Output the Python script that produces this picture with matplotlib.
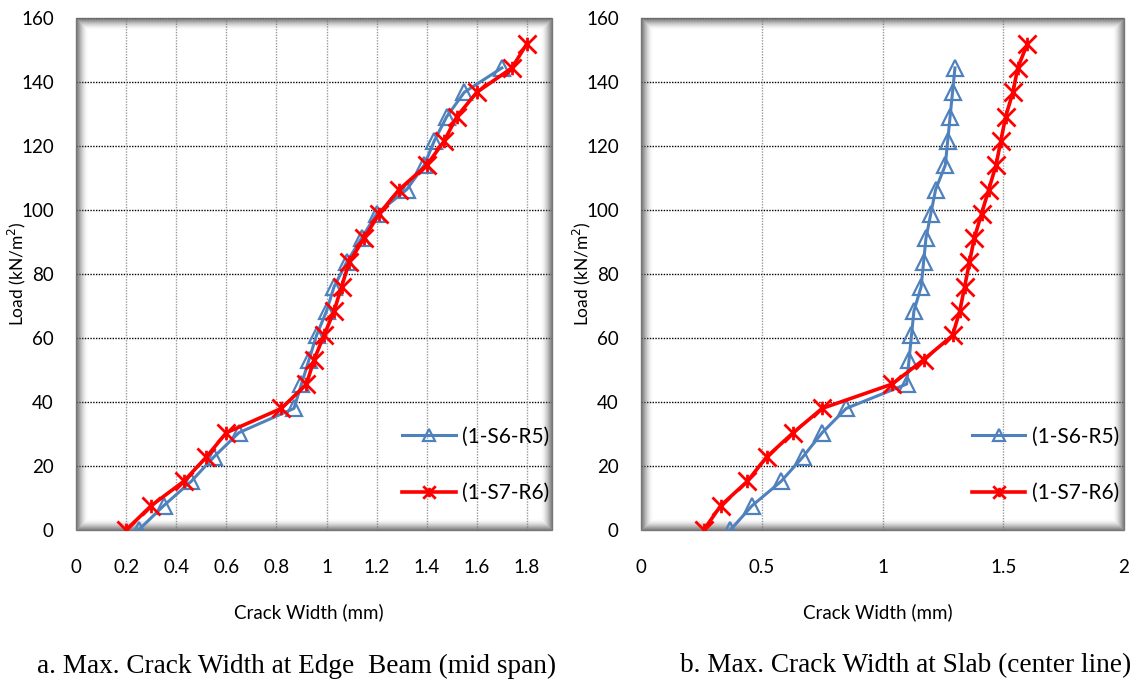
import numpy as np
from matplotlib import pyplot as plt
from matplotlib.path import Path
from matplotlib.patches import Rectangle

# ---------------------------------------------------------
# data
# ---------------------------------------------------------
loads = [0, 7.6, 15.2, 22.8, 30.4, 38, 45.6, 53.2, 60.8, 68.4, 76,
         83.6, 91.2, 98.8, 106.4, 114, 121.6, 129.2, 136.8, 144.4, 152]

# a. edge beam (mid span)
beamS6R5 = [0.25, 0.35, 0.46, 0.55, 0.65, 0.87, 0.90, 0.93, 0.96, 1.00, 1.03,
            1.08, 1.14, 1.20, 1.32, 1.39, 1.43, 1.48, 1.55, 1.70]
beamS7R6 = [0.20, 0.30, 0.43, 0.52, 0.60, 0.82, 0.92, 0.95, 0.99, 1.03, 1.06,
            1.09, 1.15, 1.21, 1.29, 1.40, 1.47, 1.52, 1.60, 1.74, 1.80]

# b. slab (center line)
slabS6R5 = [0.37, 0.46, 0.58, 0.67, 0.75, 0.85, 1.10, 1.11, 1.12, 1.13, 1.16,
            1.17, 1.18, 1.20, 1.22, 1.26, 1.27, 1.28, 1.29, 1.30]
slabS7R6 = [0.26, 0.33, 0.44, 0.52, 0.63, 0.75, 1.04, 1.17, 1.29, 1.32, 1.34,
            1.36, 1.38, 1.41, 1.44, 1.47, 1.49, 1.51, 1.54, 1.56, 1.60]

seriesNames = ["(1-S6-R5)", "(1-S7-R6)"]
captions = ["a. Max. Crack Width at Edge  Beam (mid span)",
            "b. Max. Crack Width at Slab (center line)"]
beamTicks = [0, 0.2, 0.4, 0.6, 0.8, 1, 1.2, 1.4, 1.6, 1.8]
slabTicks = [0, 0.5, 1, 1.5, 2]
loadTicks = [0, 20, 40, 60, 80, 100, 120, 140, 160]

# ---------------------------------------------------------
# styles
# ---------------------------------------------------------
blue = "#4F81BD"
red = "#FF0000"
uiFont = "Lato"

# excel "star" marker : an X with a short vertical stroke
starMarker = Path([(-1, -1), (1, 1), (-1, 1), (1, -1), (0, -0.75), (0, 0.75)],
                  [Path.MOVETO, Path.LINETO] * 3)

W, H = 1134, 686
fig = plt.figure(figsize=(W / 100, H / 100), dpi=100)


def shadowFrame(ax, wpx, hpx):
    # soft grey inner shadow round the plot area
    n = 12
    for i in range(n):
        dx = i / wpx
        dy = i / hpx
        a = 0.9 * (1 - i / n) ** 2
        ax.add_patch(Rectangle((dx, dy), 1 - 2 * dx, 1 - 2 * dy, transform=ax.transAxes,
                               fill=False, lw=1.0, edgecolor="#6a6a6a", alpha=a,
                               zorder=1, clip_on=False))


def panel(rect, sx, xmax, xticks, caption, capX):
    left, top, wpx, hpx = rect
    ax = fig.add_axes([left / W, 1 - (top + hpx) / H, wpx / W, hpx / H])
    ax.plot(sx[0], loads[:len(sx[0])], color=blue, lw=2.2, marker="^", ms=11,
            mfc="none", mec=blue, mew=1.6, label=seriesNames[0], zorder=3)
    ax.plot(sx[1], loads[:len(sx[1])], color=red, lw=2.6, marker=starMarker, ms=13,
            mec=red, mew=2.0, label=seriesNames[1], zorder=4)
    ax.set_xlim(0, xmax)
    ax.set_ylim(0, 160)
    ax.set_xticks(xticks)
    ax.set_xticklabels([("%g" % t) for t in xticks])
    ax.set_yticks(loadTicks)
    for s in ax.spines.values():
        s.set_visible(False)
    ax.tick_params(length=0, labelsize=13.5, colors="black")
    ax.tick_params(axis="y", pad=16)
    ax.tick_params(axis="x", pad=21)
    for lab in ax.get_xticklabels() + ax.get_yticklabels():
        lab.set_family(uiFont)
    for t in loadTicks[1:]:
        ax.axhline(t, color="black", lw=1.0, ls=(0, (1, 1)), zorder=0.5)
    for t in xticks[1:]:
        if t < xmax:
            ax.axvline(t, color="#9a9a9a", lw=1.0, ls=(0, (1, 1)), zorder=0.5)
    shadowFrame(ax, wpx, hpx)

    ax.set_ylabel("Load (kN/m$^2$)", family=uiFont, fontsize=12.5)
    ax.yaxis.set_label_coords(-48 / wpx, 0.5)
    ax.set_xlabel("Crack Width (mm)", family=uiFont, fontsize=13.5)
    ax.xaxis.set_label_coords(0.49, -73 / hpx)

    leg = ax.legend(loc="center left", bbox_to_anchor=(0.664, 0.127), frameon=False,
                    prop={"family": uiFont, "size": 15}, numpoints=1, borderpad=0,
                    handlelength=2.55, handletextpad=0.3, labelspacing=1.75)
    for h in leg.legend_handles:
        h.set_markersize(9)

    fig.text(capX / W, 1 - 666 / H, caption, family="Liberation Serif",
             fontsize=19.6, ha="center", va="center")
    return ax


panel((76, 18, 476, 512), [beamS6R5, beamS7R6], 1.9, beamTicks, captions[0], 297)
panel((641, 18, 483, 512), [slabS6R5, slabS7R6], 2.0, slabTicks, captions[1], 906)

fig.savefig("out.png", dpi=100)
